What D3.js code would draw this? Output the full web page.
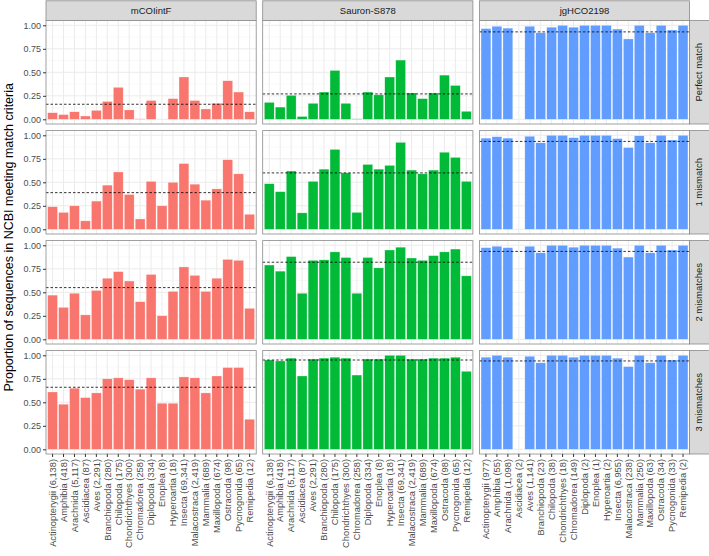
<!DOCTYPE html>
<html>
<head>
<meta charset="utf-8">
<script src="https://d3js.org/d3.v7.min.js"></script>
<style>
    body { margin: 0; background: #fff; }
    text { font-family: "Liberation Sans", Arial, sans-serif; }
</style>
</head>
<body>
<div id="chart"></div>
<script>
// categories and sequence counts shown in the x labels
var categories = ["Actinopterygii", "Amphibia", "Arachnida", "Ascidiacea", "Aves", "Branchiopoda",
    "Chilopoda", "Chondrichthyes", "Chromadorea", "Diplopoda", "Enoplea", "Hyperoartia", "Insecta",
    "Malacostraca", "Mammalia", "Maxillopoda", "Ostracoda", "Pycnogonida", "Remipedia"];
var countsFwd = [6138, 418, 5117, 87, 2291, 280, 175, 300, 258, 334, 8, 18, 69341, 2419, 689, 674, 98, 65, 12];
var countsRev = [977, 55, 1098, 2, 1141, 23, 38, 18, 149, 2, 1, 2, 6955, 238, 250, 63, 34, 33, 2];

var primers = ["mCOIintF", "Sauron-S878", "jgHCO2198"];
var matchRows = ["Perfect match", "1 mismatch", "2 mismatches", "3 mismatches"];
var yTicks = [0, 0.25, 0.5, 0.75, 1];

// proportions
var mcoiPerfect = [0.07, 0.05, 0.08, 0.035, 0.095, 0.19, 0.34, 0.10, 0.005, 0.20, 0, 0.22, 0.45, 0.20, 0.11, 0.17, 0.41, 0.29, 0.08];
var mcoi1 = [0.24, 0.18, 0.25, 0.09, 0.30, 0.47, 0.61, 0.37, 0.11, 0.51, 0.25, 0.50, 0.70, 0.48, 0.31, 0.43, 0.74, 0.59, 0.16];
var mcoi2 = [0.47, 0.34, 0.49, 0.26, 0.52, 0.65, 0.72, 0.62, 0.40, 0.69, 0.25, 0.51, 0.77, 0.68, 0.51, 0.65, 0.85, 0.84, 0.33];
var mcoi3 = [0.61, 0.48, 0.65, 0.55, 0.60, 0.75, 0.76, 0.74, 0.64, 0.76, 0.49, 0.49, 0.77, 0.76, 0.60, 0.78, 0.87, 0.87, 0.32];
var mcoiMeans = [0.16, 0.39, 0.55, 0.66];

var sauronPerfect = [0.18, 0.13, 0.255, 0.03, 0.17, 0.29, 0.52, 0.17, 0.005, 0.29, 0.26, 0.45, 0.63, 0.28, 0.22, 0.28, 0.47, 0.36, 0.085];
var sauron1 = [0.485, 0.40, 0.62, 0.175, 0.51, 0.64, 0.85, 0.60, 0.18, 0.69, 0.64, 0.68, 0.925, 0.63, 0.59, 0.63, 0.82, 0.765, 0.51];
var sauron2 = [0.79, 0.725, 0.88, 0.49, 0.84, 0.845, 0.93, 0.87, 0.49, 0.87, 0.76, 0.95, 0.98, 0.865, 0.84, 0.89, 0.93, 0.96, 0.675];
var sauron3 = [0.95, 0.94, 0.97, 0.78, 0.96, 0.97, 0.98, 0.97, 0.79, 0.96, 0.96, 1.00, 1.00, 0.96, 0.96, 0.97, 0.97, 0.98, 0.83];
var sauronMeans = [0.27, 0.60, 0.82, 0.95];

var jgPerfect = [0.965, 0.99, 0.97, 0, 0.99, 0.92, 0.98, 1.00, 0.98, 1.00, 1.00, 1.00, 0.96, 0.855, 1.00, 0.92, 1.00, 0.95, 1.00];
var jg1 = [0.97, 0.985, 0.97, 0, 0.99, 0.92, 1.00, 1.00, 0.975, 1.00, 1.00, 1.00, 0.965, 0.87, 0.995, 0.92, 1.00, 0.95, 1.00];
var jg2 = [0.975, 0.99, 0.975, 0, 0.99, 0.92, 1.00, 1.00, 0.98, 1.00, 1.00, 1.00, 0.97, 0.875, 1.00, 0.92, 1.00, 0.95, 1.00];
var jg3 = [0.98, 1.00, 0.98, 0, 0.99, 0.92, 1.00, 1.00, 0.98, 1.00, 1.00, 1.00, 0.97, 0.88, 1.00, 0.92, 1.00, 0.95, 1.00];
var jgMeans = [0.93, 0.935, 0.935, 0.94];

var values = [[mcoiPerfect, mcoi1, mcoi2, mcoi3],
              [sauronPerfect, sauron1, sauron2, sauron3],
              [jgPerfect, jg1, jg2, jg3]];
var means = [mcoiMeans, sauronMeans, jgMeans];
var counts = [countsFwd, countsFwd, countsRev];
var colors = ["#F8766D", "#00BA38", "#619CFF"];

// layout
var W = 709, H = 556;
var marginLeft = 46, marginTop = 20.6;
var panelW = 210.2, panelH = 103.4, gapX = 6.5, gapY = 6.6;
var stripH = 19.8, stripW = 21;

var svg = d3.select("#chart").append("svg")
    .attr("width", W).attr("height", H);

var x = d3.scaleBand().domain(categories).range([0, panelW])
    .paddingInner(0.1).paddingOuter(0.15);
var y = d3.scaleLinear().domain([-0.05, 1.05]).range([panelH, 0]);
var minorTicks = [0.125, 0.375, 0.625, 0.875];
var fmtCount = d3.format(",");

primers.forEach(function (primer, c) {
    var px = marginLeft + c * (panelW + gapX);

    // top strip
    svg.append("rect")
        .attr("x", px).attr("y", marginTop - stripH)
        .attr("width", panelW).attr("height", stripH)
        .attr("fill", "#d9d9d9").attr("stroke", "#8a8a8a").attr("stroke-width", 0.8);
    svg.append("text")
        .attr("x", px + panelW / 2).attr("y", marginTop - stripH / 2)
        .attr("dy", "0.35em").attr("text-anchor", "middle")
        .attr("font-size", "9.5px").attr("fill", "#1a1a1a")
        .text(primer);

    matchRows.forEach(function (row, r) {
        var py = marginTop + r * (panelH + gapY);
        var g = svg.append("g").attr("transform", "translate(" + px + "," + py + ")");

        g.append("rect").attr("width", panelW).attr("height", panelH).attr("fill", "#fff");

        // grid
        g.selectAll(".minor").data(minorTicks).enter().append("line")
            .attr("x1", 0).attr("x2", panelW)
            .attr("y1", function (d) { return y(d); }).attr("y2", function (d) { return y(d); })
            .attr("stroke", "#f0f0f0").attr("stroke-width", 0.5);
        g.selectAll(".hmajor").data(yTicks).enter().append("line")
            .attr("x1", 0).attr("x2", panelW)
            .attr("y1", function (d) { return y(d); }).attr("y2", function (d) { return y(d); })
            .attr("stroke", "#ebebeb").attr("stroke-width", 1);
        g.selectAll(".vmajor").data(categories).enter().append("line")
            .attr("y1", 0).attr("y2", panelH)
            .attr("x1", function (d) { return x(d) + x.bandwidth() / 2; })
            .attr("x2", function (d) { return x(d) + x.bandwidth() / 2; })
            .attr("stroke", "#ebebeb").attr("stroke-width", 1);

        // bars
        var vals = values[c][r];
        g.selectAll(".bar").data(categories).enter().append("rect")
            .attr("x", function (d) { return x(d); })
            .attr("width", x.bandwidth())
            .attr("y", function (d, i) { return y(vals[i]); })
            .attr("height", function (d, i) { return y(0) - y(vals[i]); })
            .attr("fill", colors[c])
            .attr("stroke", "#fff").attr("stroke-width", 0.5).attr("stroke-opacity", 0.6);

        // mean line
        g.append("line")
            .attr("x1", 0).attr("x2", panelW)
            .attr("y1", y(means[c][r])).attr("y2", y(means[c][r]))
            .attr("stroke", "#000").attr("stroke-width", 0.8)
            .attr("stroke-dasharray", "2.5,2");

        g.append("rect").attr("width", panelW).attr("height", panelH)
            .attr("fill", "none").attr("stroke", "#8a8a8a").attr("stroke-width", 0.8);

        // y axis on first column
        if (c === 0) {
            var ay = g.append("g")
                .call(d3.axisLeft(y).tickValues(yTicks).tickFormat(d3.format(".2f")).tickSize(3).tickPadding(2));
            ay.select(".domain").remove();
            ay.selectAll("line").attr("stroke", "#333");
            ay.selectAll("text").attr("fill", "#4d4d4d").attr("font-size", "9px")
                .attr("font-family", "Liberation Sans, Arial, sans-serif");
        }

        // right strip on last column
        if (c === primers.length - 1) {
            svg.append("rect")
                .attr("x", px + panelW).attr("y", py)
                .attr("width", stripW).attr("height", panelH)
                .attr("fill", "#d9d9d9").attr("stroke", "#8a8a8a").attr("stroke-width", 0.8);
            svg.append("text")
                .attr("transform", "translate(" + (px + panelW + 9.5) + "," + (py + panelH / 2) + ") rotate(-90)")
                .attr("dy", "0.35em").attr("text-anchor", "middle")
                .attr("font-size", "9.5px").attr("fill", "#1a1a1a")
                .text(row);
        }

        // x axis on bottom row
        if (r === matchRows.length - 1) {
            var cnt = counts[c];
            var ax = g.append("g").attr("transform", "translate(0," + panelH + ")")
                .call(d3.axisBottom(x).tickSize(3)
                    .tickFormat(function (d, i) { return d + " (" + fmtCount(cnt[i]) + ")"; }));
            ax.select(".domain").remove();
            ax.selectAll("line").attr("stroke", "#333");
            ax.selectAll("text")
                .attr("transform", "rotate(-90)")
                .attr("x", -5).attr("y", 0).attr("dy", "0.35em")
                .attr("text-anchor", "end")
                .attr("fill", "#4d4d4d").attr("font-size", "9.3px")
                .attr("font-family", "Liberation Sans, Arial, sans-serif");
        }
    });
});

// y axis title
var gridMid = marginTop + (matchRows.length * panelH + (matchRows.length - 1) * gapY) / 2;
svg.append("text")
    .attr("transform", "translate(9," + gridMid + ") rotate(-90)")
    .attr("dy", "0.35em").attr("text-anchor", "middle")
    .attr("font-size", "12.5px").attr("fill", "#000")
    .text("Proportion of sequences in NCBI meeting match criteria");
</script>
</body>
</html>
